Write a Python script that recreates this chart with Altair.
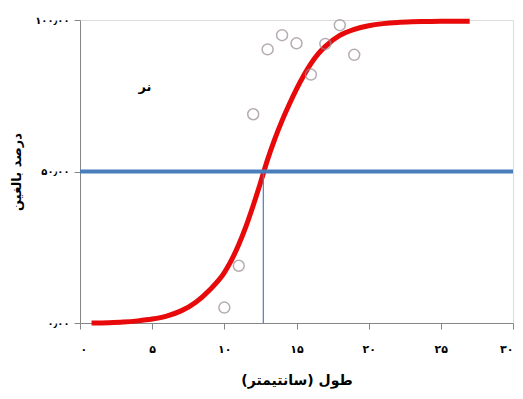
import json
import altair as alt
import pandas as pd

# fitted curve
curve_x = [0.8, 2, 3, 4, 5, 6, 7, 8, 9, 10, 10.5, 11, 11.5, 12, 12.5, 13, 13.5, 14, 14.5,
           15, 15.5, 16, 16.5, 17, 18, 19, 20, 21, 22, 23, 24, 25, 26, 27]
curve_y = [0.0, 0.1, 0.3, 0.7, 1.3, 2.3, 4.0, 6.8, 11.0, 16.6, 20.8, 25.9, 31.9, 38.8, 46.2,
           54.0, 60.8, 66.8, 72.2, 77.2, 81.7, 85.6, 88.8, 91.3, 94.9, 96.9, 98.1, 98.8, 99.2,
           99.4, 99.5, 99.6, 99.6, 99.6]

# observed points
obs_x = [10, 11, 12, 13, 14, 15, 16, 17, 18, 19]
obs_y = [5.1, 18.9, 68.9, 90.3, 95.0, 92.3, 82.0, 92.1, 98.3, 88.5]

# 50% reference
half_y = 50
l50_x = 12.7
x_min, x_max = 0, 30

x_tick_values = [0, 5, 10, 15, 20, 25, 30]
x_tick_labels = ["۰", "۵", "۱۰", "۱۵", "۲۰", "۲۵", "۳۰"]
y_tick_values = [0, 50, 100]
y_tick_labels = ["۰٫۰۰", "۵۰٫۰۰", "۱۰۰٫۰۰"]

note_text = "نر"
note_x = 4.5
note_y = 78

x_title = "طول (سانتیمتر)"
y_title = "درصد بالغین"

FONT = "DejaVu Sans"
AX = "#868686"

curve_df = pd.DataFrame({"x": curve_x, "y": curve_y})
obs_df = pd.DataFrame({"x": obs_x, "y": obs_y})
h_df = pd.DataFrame({"x": [x_min], "x2": [x_max], "y": [half_y]})
v_df = pd.DataFrame({"x": [l50_x], "y": [0], "y2": [half_y]})
note_df = pd.DataFrame({"x": [note_x], "y": [note_y], "t": [note_text]})

x_expr = json.dumps(x_tick_labels, ensure_ascii=False) + "[round(datum.value/5)]"
y_expr = json.dumps(y_tick_labels, ensure_ascii=False) + "[round(datum.value/50)]"

x_enc = alt.X("x:Q", scale=alt.Scale(domain=[x_min, x_max], nice=False),
              axis=alt.Axis(values=x_tick_values, labelExpr=x_expr, title=x_title, grid=False,
                            domainColor=AX, tickColor=AX, tickSize=6, labelPadding=14,
                            labelFont=FONT, labelFontSize=11, labelFontWeight="bold",
                            labelColor="#000", titleFont=FONT, titleFontSize=14,
                            titleFontWeight="bold", titleColor="#000", titlePadding=19))
y_enc = alt.Y("y:Q", scale=alt.Scale(domain=[0, 100], nice=False),
              axis=alt.Axis(values=y_tick_values, labelExpr=y_expr, title=y_title, grid=False,
                            domainColor=AX, tickColor=AX, tickSize=6, labelPadding=5,
                            labelFont=FONT, labelFontSize=10, labelFontWeight="bold",
                            labelColor="#000", titleFont=FONT, titleFontSize=13,
                            titleFontWeight="bold", titleColor="#000", titlePadding=11))

curve = alt.Chart(curve_df).mark_line(color="#E8090B", strokeWidth=5, interpolate="monotone").encode(
    x=x_enc, y=y_enc)
pts = alt.Chart(obs_df).mark_point(shape="circle", filled=False, size=120, color="#9A8A95",
                                   strokeWidth=1.5).encode(x="x:Q", y="y:Q")
hline = alt.Chart(h_df).mark_rule(color="#4A7EBB", strokeWidth=4).encode(
    x="x:Q", x2="x2:Q", y="y:Q")
vline = alt.Chart(v_df).mark_rule(color="#4A7EBB", strokeWidth=1.2).encode(
    x="x:Q", y="y:Q", y2="y2:Q")
note = alt.Chart(note_df).mark_text(font=FONT, fontSize=13, fontWeight="bold", color="#000").encode(
    x="x:Q", y="y:Q", text="t:N")

chart = alt.layer(curve, pts, vline, hline, note).properties(
    width=433, height=303,
    autosize=alt.AutoSizeParams(type="none"),
    padding={"left": 72, "top": 12, "right": 2, "bottom": 68},
).configure_view(stroke=None).configure(background="white")

chart.save("out.html", embed_options={"renderer": "svg", "actions": False})
